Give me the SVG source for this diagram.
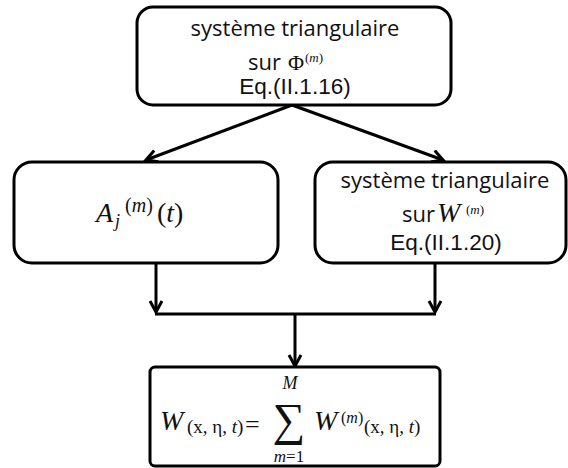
<svg xmlns="http://www.w3.org/2000/svg" width="568" height="468" viewBox="0 0 568 468">
<defs>
<marker id="ah" markerUnits="userSpaceOnUse" markerWidth="16" markerHeight="16" refX="12" refY="7" orient="auto">
<path d="M1,1 L12,7 L1,13" fill="none" stroke="#000" stroke-width="3"/>
</marker>
<style>
.box{fill:#fff;stroke:#000;stroke-width:3}
.ln{fill:none;stroke:#000;stroke-width:3}
.cal{font-family:"Open Sans","Noto Sans",sans-serif;font-size:22px;fill:#111}
.ar{font-family:"Liberation Sans",Arial,sans-serif;font-size:22.5px;fill:#111}
.m{font-family:"Liberation Serif","DejaVu Serif",serif;fill:#111}
.i{font-style:italic}
</style>
</defs>
<rect width="568" height="468" fill="#fff"/>
<g id="connectors">
<path class="ln" d="M292,105 L146,160" marker-end="url(#ah)"/>
<path class="ln" d="M292,105 L443,160" marker-end="url(#ah)"/>
<path class="ln" d="M156,263 L156,312" marker-end="url(#ah)"/>
<path class="ln" d="M435,263 L435,312" marker-end="url(#ah)"/>
<path class="ln" d="M155,314 L436,314"/>
<path class="ln" d="M295,314 L295,366" marker-end="url(#ah)"/>
</g>
<g id="top">
<rect class="box" x="137" y="7" width="314" height="98" rx="16"/>
<text class="cal" x="295" y="36" text-anchor="middle">système triangulaire</text>
<text class="cal" x="248" y="70">sur</text>
<text class="m" x="288" y="70" font-size="22">Φ</text>
<text class="m" x="305" y="62" font-size="13">(<tspan class="i">m</tspan>)</text>
<text class="ar" x="295" y="94" text-anchor="middle">Eq.(II.1.16)</text>
</g>
<g id="left">
<rect class="box" x="14" y="162" width="264" height="101" rx="18"/>
<text class="m i" x="96" y="222" font-size="28">A</text>
<text class="m i" x="115" y="227" font-size="18">j</text>
<text class="m" x="125" y="212" font-size="20">(<tspan class="i">m</tspan>)</text>
<text class="m" x="157" y="222" font-size="28">(<tspan class="i">t</tspan>)</text>
</g>
<g id="right">
<rect class="box" x="315" y="162" width="251" height="101" rx="18"/>
<text class="cal" x="445" y="188" text-anchor="middle">système triangulaire</text>
<text class="cal" x="402" y="222">sur</text>
<text class="m i" x="437" y="222" font-size="28">W</text>
<text class="m" x="466" y="214" font-size="13">(<tspan class="i">m</tspan>)</text>
<text class="ar" x="446" y="250" text-anchor="middle">Eq.(II.1.20)</text>
</g>
<g id="bottom">
<rect class="box" x="150" y="367" width="290" height="99" rx="5"/>
<text class="m i" x="160" y="430" font-size="28">W</text>
<text class="m" x="187" y="433" font-size="19">(x, η, <tspan class="i">t</tspan>)</text>
<text class="m" x="245" y="433" font-size="26">=</text>
<text class="m" x="289" y="435" font-size="46" text-anchor="middle">∑</text>
<text class="m i" x="290" y="389" font-size="18" text-anchor="middle">M</text>
<text class="m" x="289" y="462" font-size="17" text-anchor="middle"><tspan class="i">m</tspan>=1</text>
<text class="m i" x="314" y="430" font-size="28">W</text>
<text class="m" x="341" y="423" font-size="16">(<tspan class="i">m</tspan>)</text>
<text class="m" x="364" y="433" font-size="19">(x, η, <tspan class="i">t</tspan>)</text>
</g>
</svg>
